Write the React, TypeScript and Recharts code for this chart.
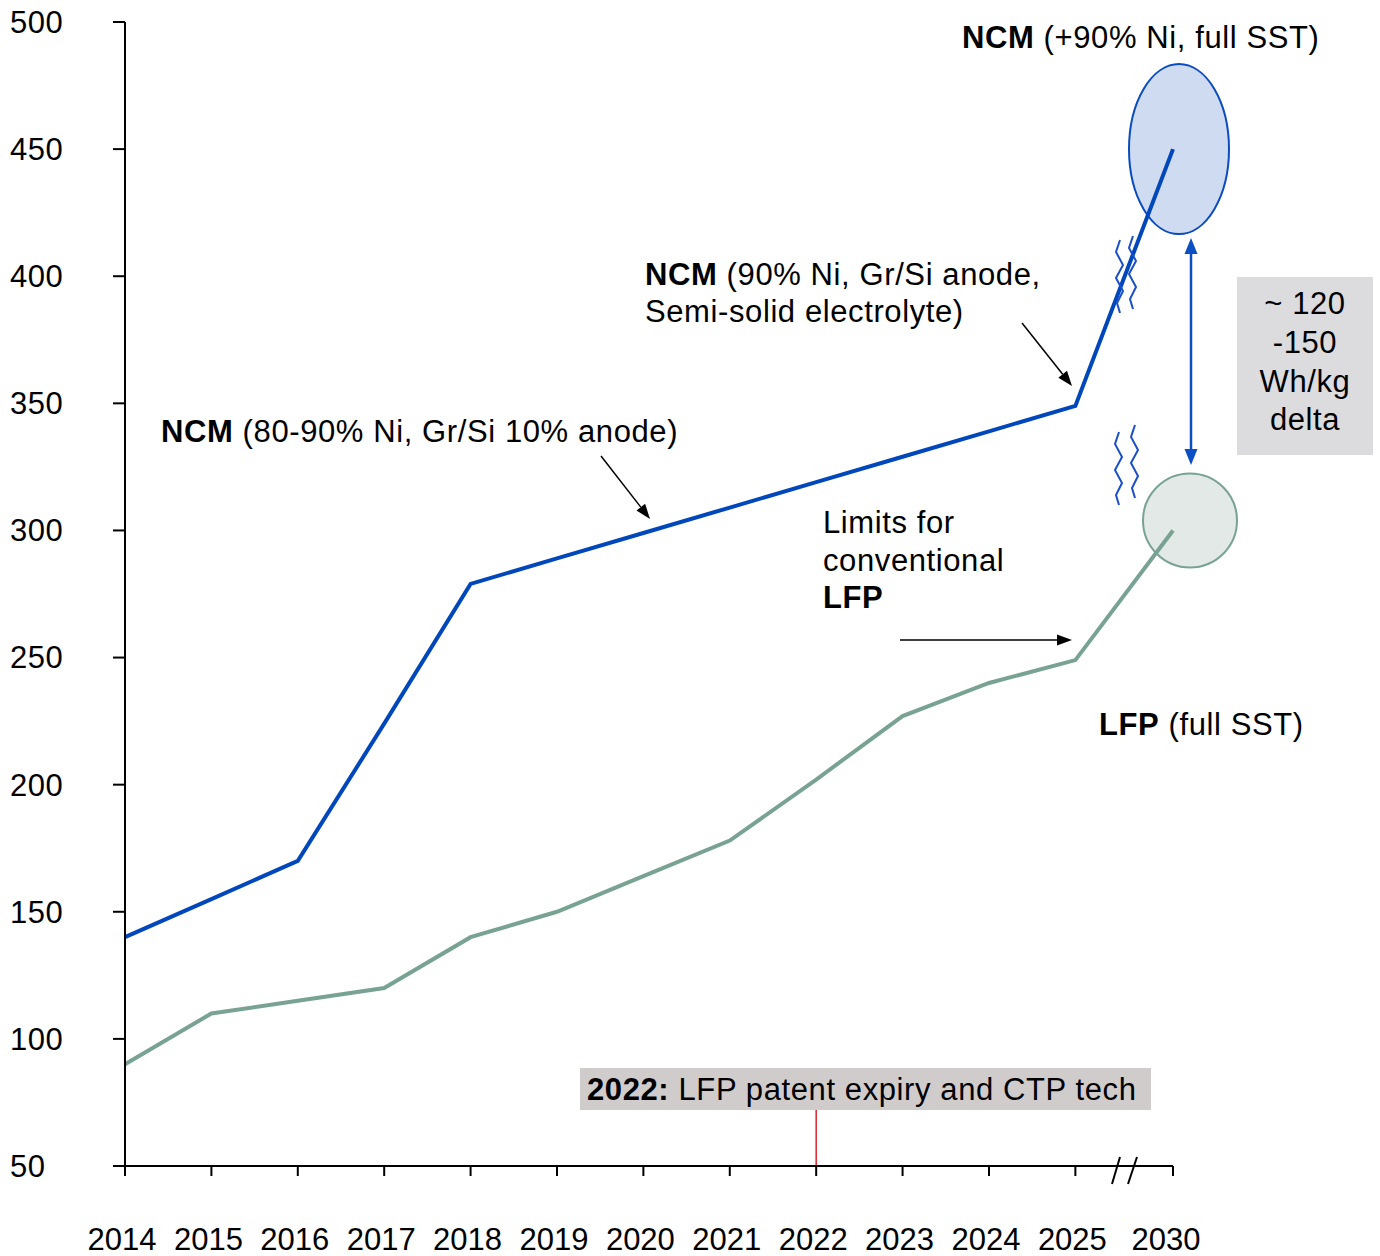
import React from 'react';
import { LineChart, Line, XAxis, YAxis, ReferenceDot, ReferenceLine } from 'recharts';

const FONT = '"Liberation Sans", Arial, Helvetica, sans-serif';
const FS = 31;

// categories (2030 sits after an axis break)
const years = ['2014', '2015', '2016', '2017', '2018', '2019', '2020', '2021', '2022', '2023', '2024', '2025', '2030'];
// Wh/kg
const ncmValues = [140, 155, 170, 224, 279, 289, 299, 309, 319, 329, 339, 349, 450];
const lfpValues = [90, 110, 115, 120, 140, 150, 164, 178, 202, 227, 240, 249, 300];
const yTicks = [50, 100, 150, 200, 250, 300, 350, 400, 450, 500];

const BREAK_GAP = 1.13;
const xPos = years.map((_, i) => (i < years.length - 1 ? i : i - 1 + BREAK_GAP));
const data = years.map((year, i) => ({ year, x: xPos[i], ncm: ncmValues[i], lfp: lfpValues[i] }));

const NCM_COLOR = '#0047bb';
const LFP_COLOR = '#78a393';

const YTick = (props: any) => (
  <text x={10} y={props.y} dy="0.35em" fontSize={FS} fontFamily={FONT} fill="#000" letterSpacing={0.5}>
    {props.payload.value}
  </text>
);

const XTick = (props: any) => {
  const idx = xPos.indexOf(props.payload.value);
  const last = idx === years.length - 1;
  return (
    <text x={props.x + (last ? -7 : -3)} y={1250} textAnchor="middle" fontSize={FS} fontFamily={FONT} fill="#000">
      {years[idx]}
    </text>
  );
};

function Arrow({ x1, y1, x2, y2, color = '#000', w = 1.5, len = 15, half = 5.5 }: any) {
  const a = Math.atan2(y2 - y1, x2 - x1);
  const bx = x2 - len * Math.cos(a);
  const by = y2 - len * Math.sin(a);
  const px = -Math.sin(a) * half;
  const py = Math.cos(a) * half;
  return (
    <g>
      <line x1={x1} y1={y1} x2={bx} y2={by} stroke={color} strokeWidth={w} />
      <polygon points={`${x2},${y2} ${bx + px},${by + py} ${bx - px},${by - py}`} fill={color} />
    </g>
  );
}

function squiggle(x: number, y: number) {
  return `M${x},${y} L${x - 4},${y + 12} L${x + 3},${y + 25} L${x - 4},${y + 38} L${x + 3},${y + 51} L${x - 3},${y + 63} L${x},${y + 73}`;
}

function Overlay() {
  const t = { fontSize: FS, fontFamily: FONT, fill: '#000', letterSpacing: 0.6 };
  return (
    <svg width={1380} height={1256} style={{ position: 'absolute', left: 0, top: 0, pointerEvents: 'none' }}>
      <text x={962} y={48} {...t}>
        <tspan fontWeight="bold">NCM</tspan> (+90% Ni, full SST)
      </text>
      <text x={645} y={285} {...t}>
        <tspan fontWeight="bold">NCM</tspan> (90% Ni, Gr/Si anode,
      </text>
      <text x={645} y={322} {...t}>Semi-solid electrolyte)</text>
      <text x={161} y={442} {...t}>
        <tspan fontWeight="bold">NCM</tspan> (80-90% Ni, Gr/Si 10% anode)
      </text>
      <text x={823} y={533} {...t}>Limits for</text>
      <text x={823} y={571} {...t}>conventional</text>
      <text x={823} y={608} {...t} fontWeight="bold">LFP</text>
      <text x={1099} y={735} {...t}>
        <tspan fontWeight="bold">LFP</tspan> (full SST)
      </text>

      <Arrow x1={601} y1={456} x2={650} y2={519} />
      <Arrow x1={1022} y1={323} x2={1072} y2={386} />
      <Arrow x1={900} y1={640} x2={1072} y2={640} />

      {/* double arrow between the two targets */}
      <Arrow x1={1191} y1={350} x2={1191} y2={238} color="#0b4fc4" w={2.5} len={16} half={6.5} />
      <Arrow x1={1191} y1={350} x2={1191} y2={465} color="#0b4fc4" w={2.5} len={16} half={6.5} />

      {/* break marks */}
      <g fill="none" stroke="#1a4fc8" strokeWidth={2}>
        <path d={squiggle(1120, 240)} />
        <path d={squiggle(1133, 236)} />
        <path d={squiggle(1119, 432)} />
        <path d={squiggle(1135, 425)} />
      </g>
      <g stroke="#000" strokeWidth={2}>
        <line x1={1112} y1={1184} x2={1120} y2={1157} />
        <line x1={1128} y1={1184} x2={1137} y2={1157} />
      </g>

      <rect x={1237} y={277} width={136} height={178} fill="#dcdcde" />
      <g {...t} textAnchor="middle">
        <text x={1305} y={314}>~ 120</text>
        <text x={1305} y={353}>-150</text>
        <text x={1305} y={392}>Wh/kg</text>
        <text x={1305} y={430}>delta</text>
      </g>

      <rect x={580} y={1068} width={571} height={42} fill="#d1cccc" />
      <text x={587} y={1100} {...t}>
        <tspan fontWeight="bold">2022:</tspan> LFP patent expiry and CTP tech
      </text>
    </svg>
  );
}

export default function App() {
  return (
    <div style={{ position: 'absolute', left: 0, top: 0, width: 1380, height: 1256, background: '#fff' }}>
      <LineChart width={1380} height={1256} data={data} margin={{ top: 22, right: 207, left: 10, bottom: 0 }}>
        <XAxis
          dataKey="x"
          type="number"
          domain={[0, xPos[xPos.length - 1]]}
          ticks={xPos}
          interval={0}
          height={90}
          tickSize={10}
          axisLine={{ stroke: '#000', strokeWidth: 2 }}
          tickLine={{ stroke: '#000', strokeWidth: 2 }}
          tick={<XTick />}
        />
        <YAxis
          type="number"
          domain={[50, 500]}
          ticks={yTicks}
          interval={0}
          width={115}
          tickSize={12}
          axisLine={{ stroke: '#000', strokeWidth: 2 }}
          tickLine={{ stroke: '#000', strokeWidth: 2 }}
          tick={<YTick />}
        />
        <ReferenceDot
          x={xPos[12]}
          y={ncmValues[12]}
          zIndex={50}
          shape={(p: any) => (
            <ellipse cx={p.cx + 6} cy={p.cy} rx={50} ry={85} fill="#cfdbf1" stroke="#0a4cc0" strokeWidth={2} />
          )}
        />
        <ReferenceDot
          x={xPos[12]}
          y={lfpValues[12]}
          zIndex={50}
          shape={(p: any) => (
            <circle cx={p.cx + 17} cy={p.cy - 10} r={47} fill="#e2e9e6" stroke={LFP_COLOR} strokeWidth={2} />
          )}
        />
        <ReferenceLine
          segment={[{ x: xPos[8], y: 50 }, { x: xPos[8], y: 72 }]}
          stroke="#e0202a"
          strokeWidth={1.5}
        />
        <Line type="linear" dataKey="lfp" stroke={LFP_COLOR} strokeWidth={4} dot={false} isAnimationActive={false} />
        <Line type="linear" dataKey="ncm" stroke={NCM_COLOR} strokeWidth={4} dot={false} isAnimationActive={false} />
      </LineChart>
      <Overlay />
    </div>
  );
}
